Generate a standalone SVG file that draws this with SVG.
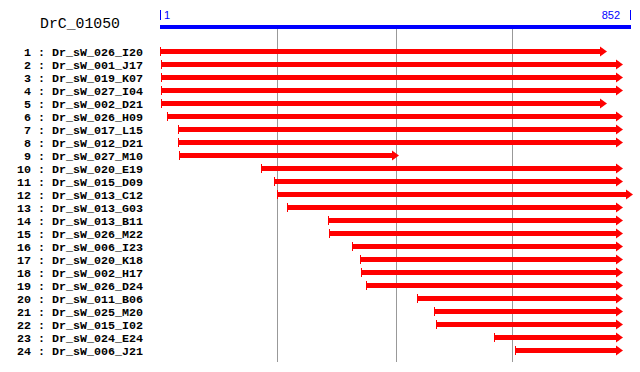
<svg xmlns="http://www.w3.org/2000/svg" width="640" height="372" viewBox="0 0 640 372">
<style>
.lbl{font-family:"Liberation Mono","DejaVu Sans Mono",monospace;font-size:11.67px;font-weight:bold;fill:#000}
.r{fill:#ff0000}
.g{stroke:#999;stroke-width:1}
.axis{fill:#0000ff}
.axt{font-family:"Liberation Sans","DejaVu Sans",sans-serif;font-size:11px;fill:#0000ff}
</style>
<rect width="640" height="372" fill="#fff"/>
<text x="40" y="27.5" font-family="Liberation Mono, DejaVu Sans Mono, monospace" font-size="14.8" fill="#000">DrC_01050</text>
<g id="axis">
<rect class="axis" x="160" y="25" width="471" height="4"/>
<rect class="axis" x="160" y="10" width="1" height="10"/>
<text class="axt" x="164" y="19">1</text>
<rect class="axis" x="630" y="10" width="1" height="10"/>
<text class="axt" x="620" y="19" text-anchor="end">852</text>
</g>
<g id="grid">
<line class="g" x1="277.5" y1="29" x2="277.5" y2="362"/>
<line class="g" x1="396.5" y1="29" x2="396.5" y2="362"/>
<line class="g" x1="512.5" y1="29" x2="512.5" y2="362"/>
</g>
<g id="r1" transform="translate(0,51.5)"><text class="lbl" x="24" y="4.5">1 : Dr_sW_026_I20</text><rect class="r" x="160" y="-4.5" width="1" height="9"/><rect class="r" x="160" y="-2.5" width="440" height="5"/><polygon class="r" points="600,-5 607,0 600,5"/></g>
<g id="r2" transform="translate(0,64.5)"><text class="lbl" x="24" y="4.5">2 : Dr_sW_001_J17</text><rect class="r" x="161" y="-4.5" width="1" height="9"/><rect class="r" x="161" y="-2.5" width="455" height="5"/><polygon class="r" points="616,-5 623,0 616,5"/></g>
<g id="r3" transform="translate(0,77.5)"><text class="lbl" x="24" y="4.5">3 : Dr_sW_019_K07</text><rect class="r" x="161" y="-4.5" width="1" height="9"/><rect class="r" x="161" y="-2.5" width="455" height="5"/><polygon class="r" points="616,-5 623,0 616,5"/></g>
<g id="r4" transform="translate(0,90.5)"><text class="lbl" x="24" y="4.5">4 : Dr_sW_027_I04</text><rect class="r" x="161" y="-4.5" width="1" height="9"/><rect class="r" x="161" y="-2.5" width="455" height="5"/><polygon class="r" points="616,-5 623,0 616,5"/></g>
<g id="r5" transform="translate(0,103.5)"><text class="lbl" x="24" y="4.5">5 : Dr_sW_002_D21</text><rect class="r" x="161" y="-4.5" width="1" height="9"/><rect class="r" x="161" y="-2.5" width="439" height="5"/><polygon class="r" points="600,-5 607,0 600,5"/></g>
<g id="r6" transform="translate(0,116.5)"><text class="lbl" x="24" y="4.5">6 : Dr_sW_026_H09</text><rect class="r" x="167" y="-4.5" width="1" height="9"/><rect class="r" x="167" y="-2.5" width="449" height="5"/><polygon class="r" points="616,-5 623,0 616,5"/></g>
<g id="r7" transform="translate(0,129.5)"><text class="lbl" x="24" y="4.5">7 : Dr_sW_017_L15</text><rect class="r" x="178" y="-4.5" width="1" height="9"/><rect class="r" x="178" y="-2.5" width="438" height="5"/><polygon class="r" points="616,-5 623,0 616,5"/></g>
<g id="r8" transform="translate(0,142.5)"><text class="lbl" x="24" y="4.5">8 : Dr_sW_012_D21</text><rect class="r" x="178" y="-4.5" width="1" height="9"/><rect class="r" x="178" y="-2.5" width="438" height="5"/><polygon class="r" points="616,-5 623,0 616,5"/></g>
<g id="r9" transform="translate(0,155.5)"><text class="lbl" x="24" y="4.5">9 : Dr_sW_027_M10</text><rect class="r" x="179" y="-4.5" width="1" height="9"/><rect class="r" x="179" y="-2.5" width="213" height="5"/><polygon class="r" points="392,-5 399,0 392,5"/></g>
<g id="r10" transform="translate(0,168.5)"><text class="lbl" x="17" y="4.5">10 : Dr_sW_020_E19</text><rect class="r" x="261" y="-4.5" width="1" height="9"/><rect class="r" x="261" y="-2.5" width="355" height="5"/><polygon class="r" points="616,-5 623,0 616,5"/></g>
<g id="r11" transform="translate(0,181.5)"><text class="lbl" x="17" y="4.5">11 : Dr_sW_015_D09</text><rect class="r" x="274" y="-4.5" width="1" height="9"/><rect class="r" x="274" y="-2.5" width="342" height="5"/><polygon class="r" points="616,-5 623,0 616,5"/></g>
<g id="r12" transform="translate(0,194.5)"><text class="lbl" x="17" y="4.5">12 : Dr_sW_013_C12</text><rect class="r" x="277" y="-4.5" width="1" height="9"/><rect class="r" x="277" y="-2.5" width="349" height="5"/><polygon class="r" points="626,-5 633,0 626,5"/></g>
<g id="r13" transform="translate(0,207.5)"><text class="lbl" x="17" y="4.5">13 : Dr_sW_013_G03</text><rect class="r" x="287" y="-4.5" width="1" height="9"/><rect class="r" x="287" y="-2.5" width="329" height="5"/><polygon class="r" points="616,-5 623,0 616,5"/></g>
<g id="r14" transform="translate(0,220.5)"><text class="lbl" x="17" y="4.5">14 : Dr_sW_013_B11</text><rect class="r" x="328" y="-4.5" width="1" height="9"/><rect class="r" x="328" y="-2.5" width="288" height="5"/><polygon class="r" points="616,-5 623,0 616,5"/></g>
<g id="r15" transform="translate(0,233.5)"><text class="lbl" x="17" y="4.5">15 : Dr_sW_026_M22</text><rect class="r" x="329" y="-4.5" width="1" height="9"/><rect class="r" x="329" y="-2.5" width="287" height="5"/><polygon class="r" points="616,-5 623,0 616,5"/></g>
<g id="r16" transform="translate(0,246.5)"><text class="lbl" x="17" y="4.5">16 : Dr_sW_006_I23</text><rect class="r" x="352" y="-4.5" width="1" height="9"/><rect class="r" x="352" y="-2.5" width="264" height="5"/><polygon class="r" points="616,-5 623,0 616,5"/></g>
<g id="r17" transform="translate(0,259.5)"><text class="lbl" x="17" y="4.5">17 : Dr_sW_020_K18</text><rect class="r" x="360" y="-4.5" width="1" height="9"/><rect class="r" x="360" y="-2.5" width="256" height="5"/><polygon class="r" points="616,-5 623,0 616,5"/></g>
<g id="r18" transform="translate(0,272.5)"><text class="lbl" x="17" y="4.5">18 : Dr_sW_002_H17</text><rect class="r" x="361" y="-4.5" width="1" height="9"/><rect class="r" x="361" y="-2.5" width="255" height="5"/><polygon class="r" points="616,-5 623,0 616,5"/></g>
<g id="r19" transform="translate(0,285.5)"><text class="lbl" x="17" y="4.5">19 : Dr_sW_026_D24</text><rect class="r" x="366" y="-4.5" width="1" height="9"/><rect class="r" x="366" y="-2.5" width="250" height="5"/><polygon class="r" points="616,-5 623,0 616,5"/></g>
<g id="r20" transform="translate(0,298.5)"><text class="lbl" x="17" y="4.5">20 : Dr_sW_011_B06</text><rect class="r" x="417" y="-4.5" width="1" height="9"/><rect class="r" x="417" y="-2.5" width="199" height="5"/><polygon class="r" points="616,-5 623,0 616,5"/></g>
<g id="r21" transform="translate(0,311.5)"><text class="lbl" x="17" y="4.5">21 : Dr_sW_025_M20</text><rect class="r" x="434" y="-4.5" width="1" height="9"/><rect class="r" x="434" y="-2.5" width="182" height="5"/><polygon class="r" points="616,-5 623,0 616,5"/></g>
<g id="r22" transform="translate(0,324.5)"><text class="lbl" x="17" y="4.5">22 : Dr_sW_015_I02</text><rect class="r" x="436" y="-4.5" width="1" height="9"/><rect class="r" x="436" y="-2.5" width="180" height="5"/><polygon class="r" points="616,-5 623,0 616,5"/></g>
<g id="r23" transform="translate(0,337.5)"><text class="lbl" x="17" y="4.5">23 : Dr_sW_024_E24</text><rect class="r" x="494" y="-4.5" width="1" height="9"/><rect class="r" x="494" y="-2.5" width="122" height="5"/><polygon class="r" points="616,-5 623,0 616,5"/></g>
<g id="r24" transform="translate(0,350.5)"><text class="lbl" x="17" y="4.5">24 : Dr_sW_006_J21</text><rect class="r" x="515" y="-4.5" width="1" height="9"/><rect class="r" x="515" y="-2.5" width="101" height="5"/><polygon class="r" points="616,-5 623,0 616,5"/></g>
</svg>
